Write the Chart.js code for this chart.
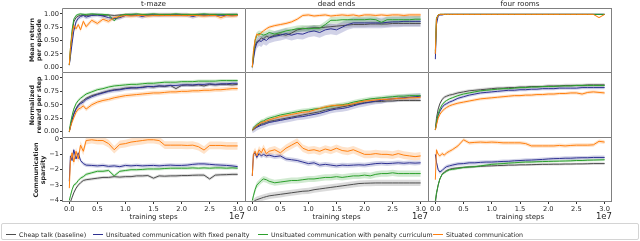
<!DOCTYPE html>
<html>
<head>
<meta charset="utf-8">
<script src="https://cdn.jsdelivr.net/npm/chart.js@4.4.0/dist/chart.umd.min.js"></script>
<style>
body { margin: 0; background: #fff; }
#wrap { position: relative; width: 640px; height: 241px; overflow: hidden; font-family: "DejaVu Sans", sans-serif; color: #262626; }
canvas { position: absolute; }
.t { position: absolute; white-space: nowrap; }
.ttl { font-size: 7.2px; line-height: 8px; top: 0px; transform: translateX(-50%); }
.xl { font-size: 7px; line-height: 8px; top: 213px; transform: translateX(-50%); }
.off { font-size: 8.5px; line-height: 9px; top: 212px; transform: translateX(-100%); }
.yl { font-size: 6.3px; line-height: 7.3px; font-weight: bold; text-align: center; transform: translate(-50%, -50%) rotate(-90deg); }
#legend { position: absolute; left: 1px; top: 223px; width: 636px; height: 15px; border: 1px solid #d4d4d4; border-radius: 2px; }
.lg { position: absolute; top: 230.5px; font-size: 6.3px; line-height: 8px; }
.ln { position: absolute; top: 234px; width: 10px; height: 1px; }
</style>
</head>
<body>
<div id="wrap">
  <div id="legend"></div>
</div>
<script>
// training steps, in units of 1e7
const stepsE7 = [0, 0.02, 0.05, 0.08, 0.12, 0.16, 0.2, 0.25, 0.3,
  0.4, 0.5, 0.6, 0.7, 0.8, 0.9, 1.0, 1.1, 1.2, 1.3, 1.4, 1.5, 1.6, 1.7, 1.8, 1.9, 2.0,
  2.1, 2.2, 2.3, 2.4, 2.5, 2.6, 2.7, 2.8, 2.9, 3.0];
const xTicks = [0, 0.5, 1, 1.5, 2, 2.5, 3];
const rewTicks = [0, 0.25, 0.5, 0.75, 1];
const spTicks = [0, -1, -2, -3, -4];

const envNames = ['t-maze', 'dead ends', 'four rooms'];
const rowLabels = [['Mean return', 'per episode'], ['Normalized', 'reward per step'], ['Communication', 'sparsity']];
const seriesNames = ['Cheap talk (baseline)', 'Unsituated communication with fixed penalty',
  'Unsituated communication with penalty curriculum', 'Situated communication'];

// row 1: mean return per episode
const tmRetBase = [0.04, 0.3, 0.62, 0.85, 0.93, 0.96, 0.97, 0.98, 0.97,
  0.98, 0.98, 0.97, 0.98, 0.97, 0.98, 0.98, 0.98, 0.97, 0.98, 0.98, 0.98, 0.97, 0.98, 0.98, 0.98, 0.98,
  0.97, 0.98, 0.98, 0.98, 0.97, 0.98, 0.98, 0.98, 0.98, 0.98];
const tmRetFixed = [0.04, 0.2, 0.45, 0.68, 0.85, 0.92, 0.95, 0.97, 0.94,
  0.97, 0.98, 0.96, 0.93, 0.91, 0.93, 0.97, 0.98, 0.98, 0.95, 0.98, 0.98, 0.98, 0.98, 0.98, 0.98, 0.98,
  0.98, 0.95, 0.98, 0.98, 0.98, 0.98, 0.98, 0.97, 0.98, 0.98];
const tmRetCurr = [0.04, 0.35, 0.7, 0.9, 0.97, 0.99, 1.0, 0.99, 0.99,
  1.0, 0.99, 0.99, 0.98, 0.87, 0.97, 0.99, 0.99, 1.0, 0.99, 0.99, 1.0, 0.99, 0.99, 0.99, 1.0, 0.99,
  0.99, 0.99, 0.99, 1.0, 0.99, 0.99, 0.99, 0.99, 0.99, 0.99];
const tmRetSit = [0.04, 0.35, 0.62, 0.78, 0.72, 0.8, 0.7, 0.86, 0.76,
  0.88, 0.82, 0.9, 0.86, 0.93, 0.95, 0.97, 0.96, 0.97, 0.97, 0.96, 0.97, 0.97, 0.97, 0.97, 0.97, 0.97,
  0.97, 0.97, 0.97, 0.96, 0.97, 0.97, 0.93, 0.97, 0.96, 0.97];
const tmRetSd = [0.02, 0.04, 0.02, 0.04];

const deRetBase = [0.0, 0.2, 0.4, 0.48, 0.5, 0.55, 0.53, 0.58, 0.56,
  0.6, 0.62, 0.6, 0.64, 0.7, 0.72, 0.73, 0.74, 0.74, 0.75, 0.76, 0.77, 0.78, 0.79, 0.8, 0.8, 0.8,
  0.81, 0.81, 0.81, 0.81, 0.82, 0.82, 0.82, 0.82, 0.82, 0.82];
const deRetFixed = [0.0, 0.15, 0.35, 0.45, 0.5, 0.48, 0.53, 0.5, 0.55,
  0.58, 0.6, 0.63, 0.6, 0.63, 0.62, 0.66, 0.68, 0.65, 0.7, 0.72, 0.7, 0.75, 0.8, 0.83, 0.83, 0.83,
  0.83, 0.83, 0.83, 0.84, 0.85, 0.85, 0.86, 0.86, 0.86, 0.86];
const deRetCurr = [0.0, 0.25, 0.5, 0.6, 0.63, 0.62, 0.6, 0.62, 0.65,
  0.62, 0.65, 0.68, 0.7, 0.72, 0.73, 0.72, 0.73, 0.73, 0.8, 0.88, 0.88, 0.89, 0.89, 0.89, 0.89, 0.89,
  0.9, 0.89, 0.84, 0.89, 0.89, 0.89, 0.89, 0.89, 0.9, 0.9];
const deRetSit = [0.0, 0.3, 0.52, 0.62, 0.6, 0.65, 0.68, 0.72, 0.75,
  0.78, 0.8, 0.82, 0.85, 0.9, 0.97, 0.98, 0.96, 0.97, 0.98, 0.96, 0.97, 0.98, 0.97, 0.98, 0.96, 0.98,
  0.98, 0.97, 0.98, 0.97, 0.98, 0.98, 0.97, 0.98, 0.98, 0.98];
const deRetSd = [0.05, 0.1, 0.06, 0.03];

const frRetBase = [0.25, 0.9, 0.98, 0.99, 0.99, 0.99, 0.99, 0.99, 0.99,
  0.99, 0.99, 0.99, 0.99, 0.99, 0.99, 0.99, 0.99, 0.99, 0.99, 0.99, 0.99, 0.99, 0.99, 0.99, 0.99, 0.99,
  0.99, 0.99, 0.99, 0.99, 0.99, 0.99, 0.99, 0.99, 0.99, 0.99];
const frRetFixed = [0.15, 0.8, 0.96, 0.98, 0.98, 0.99, 0.99, 0.99, 0.99,
  0.99, 0.99, 0.99, 0.99, 0.99, 0.99, 0.99, 0.99, 0.99, 0.99, 0.99, 0.99, 0.99, 0.99, 0.99, 0.99, 0.99,
  0.99, 0.99, 0.99, 0.99, 0.99, 0.99, 0.99, 0.99, 0.99, 0.99];
const frRetCurr = [0.3, 0.92, 0.98, 0.99, 0.99, 0.99, 0.99, 0.99, 0.99,
  0.99, 0.99, 0.99, 0.99, 0.99, 0.99, 0.99, 0.99, 0.99, 0.99, 0.99, 0.99, 0.99, 0.99, 0.99, 0.99, 0.99,
  0.99, 0.99, 0.99, 0.99, 0.99, 0.99, 0.99, 0.99, 0.99, 0.99];
const frRetSit = [0.25, 0.9, 0.98, 0.99, 0.99, 0.99, 0.99, 0.99, 0.99,
  0.99, 0.99, 0.99, 0.99, 0.99, 0.99, 0.99, 0.99, 0.99, 0.99, 0.99, 0.99, 0.99, 0.99, 0.99, 0.99, 0.99,
  0.99, 0.99, 0.99, 0.99, 0.99, 0.99, 0.99, 0.99, 0.93, 0.99];
const frRetSd = [0.01, 0.01, 0.01, 0.01];

// row 2: normalized reward per step
const tmRewBase = [0.0, 0.1, 0.22, 0.34, 0.43, 0.5, 0.54, 0.58, 0.62,
  0.67, 0.7, 0.73, 0.76, 0.78, 0.79, 0.81, 0.82, 0.81, 0.83, 0.84, 0.83, 0.85, 0.84, 0.86, 0.8, 0.86,
  0.87, 0.86, 0.87, 0.85, 0.88, 0.87, 0.88, 0.88, 0.87, 0.88];
const tmRewFixed = [0.0, 0.1, 0.22, 0.32, 0.42, 0.48, 0.52, 0.55, 0.6,
  0.65, 0.69, 0.72, 0.75, 0.77, 0.78, 0.8, 0.81, 0.82, 0.82, 0.84, 0.84, 0.85, 0.85, 0.86, 0.86, 0.87,
  0.87, 0.87, 0.88, 0.88, 0.89, 0.88, 0.89, 0.89, 0.9, 0.9];
const tmRewCurr = [0.0, 0.15, 0.3, 0.42, 0.52, 0.58, 0.62, 0.66, 0.7,
  0.74, 0.78, 0.8, 0.83, 0.85, 0.86, 0.87, 0.88, 0.88, 0.89, 0.9, 0.9, 0.91, 0.92, 0.92, 0.92, 0.93,
  0.93, 0.93, 0.94, 0.94, 0.94, 0.94, 0.95, 0.95, 0.95, 0.95];
const tmRewSit = [0.0, 0.08, 0.18, 0.26, 0.36, 0.42, 0.44, 0.48, 0.42,
  0.5, 0.55, 0.58, 0.6, 0.63, 0.65, 0.67, 0.68, 0.69, 0.7, 0.71, 0.72, 0.72, 0.73, 0.74, 0.74, 0.75,
  0.75, 0.76, 0.76, 0.77, 0.77, 0.78, 0.78, 0.79, 0.8, 0.8];
const tmRewSd = [0.03, 0.04, 0.03, 0.04];

const deRewBase = [0.03, 0.05, 0.07, 0.1, 0.12, 0.14, 0.15, 0.17, 0.19,
  0.21, 0.23, 0.25, 0.27, 0.29, 0.31, 0.33, 0.35, 0.37, 0.4, 0.42, 0.44, 0.46, 0.48, 0.5, 0.52, 0.54,
  0.55, 0.56, 0.56, 0.57, 0.57, 0.58, 0.58, 0.58, 0.58, 0.58];
const deRewFixed = [0.03, 0.04, 0.06, 0.08, 0.1, 0.12, 0.13, 0.15, 0.17,
  0.19, 0.21, 0.23, 0.25, 0.27, 0.28, 0.3, 0.32, 0.34, 0.37, 0.4, 0.42, 0.43, 0.45, 0.48, 0.51, 0.53,
  0.55, 0.57, 0.58, 0.6, 0.61, 0.62, 0.63, 0.64, 0.65, 0.66];
const deRewCurr = [0.03, 0.06, 0.1, 0.13, 0.16, 0.19, 0.2, 0.23, 0.25,
  0.28, 0.31, 0.33, 0.35, 0.37, 0.39, 0.4, 0.42, 0.43, 0.45, 0.47, 0.49, 0.5, 0.52, 0.55, 0.57, 0.59,
  0.61, 0.62, 0.63, 0.64, 0.65, 0.66, 0.66, 0.67, 0.67, 0.67];
const deRewSit = [0.03, 0.05, 0.08, 0.11, 0.14, 0.17, 0.18, 0.2, 0.22,
  0.25, 0.28, 0.3, 0.32, 0.34, 0.36, 0.37, 0.4, 0.43, 0.46, 0.48, 0.49, 0.49, 0.5, 0.52, 0.55, 0.57,
  0.58, 0.59, 0.6, 0.6, 0.61, 0.62, 0.62, 0.63, 0.63, 0.64];
const deRewSd = [0.03, 0.06, 0.04, 0.03];

const frRewBase = [0.03, 0.25, 0.42, 0.52, 0.6, 0.64, 0.66, 0.68, 0.69,
  0.72, 0.74, 0.76, 0.77, 0.78, 0.79, 0.8, 0.81, 0.81, 0.82, 0.82, 0.83, 0.83, 0.84, 0.84, 0.84, 0.85,
  0.85, 0.85, 0.86, 0.86, 0.86, 0.86, 0.87, 0.87, 0.87, 0.87];
const frRewFixed = [0.03, 0.15, 0.3, 0.38, 0.45, 0.5, 0.52, 0.55, 0.57,
  0.62, 0.65, 0.68, 0.7, 0.72, 0.73, 0.74, 0.75, 0.76, 0.77, 0.77, 0.78, 0.78, 0.79, 0.79, 0.8, 0.8,
  0.8, 0.81, 0.81, 0.81, 0.81, 0.82, 0.82, 0.82, 0.82, 0.82];
const frRewCurr = [0.03, 0.18, 0.33, 0.42, 0.5, 0.55, 0.58, 0.61, 0.63,
  0.67, 0.7, 0.72, 0.74, 0.76, 0.77, 0.78, 0.79, 0.8, 0.8, 0.81, 0.82, 0.82, 0.83, 0.83, 0.84, 0.84,
  0.84, 0.85, 0.85, 0.85, 0.86, 0.86, 0.86, 0.86, 0.86, 0.86];
const frRewSit = [0.03, 0.12, 0.25, 0.32, 0.38, 0.42, 0.45, 0.48, 0.5,
  0.53, 0.55, 0.57, 0.59, 0.61, 0.62, 0.63, 0.64, 0.65, 0.66, 0.67, 0.67, 0.68, 0.68, 0.69, 0.69, 0.7,
  0.7, 0.71, 0.71, 0.72, 0.72, 0.7, 0.73, 0.74, 0.73, 0.72];
const frRewSd = [0.03, 0.03, 0.02, 0.03];

// row 3: communication sparsity
const tmSpBase = [-4.3, -4.1, -3.8, -3.5, -3.2, -3.0, -2.85, -2.7, -2.65,
  -2.6, -2.55, -2.5, -2.5, -2.45, -2.48, -2.45, -2.45, -2.4, -2.4, -2.38, -2.55, -2.4, -2.42, -2.4, -2.4, -2.38,
  -2.38, -2.36, -2.35, -2.35, -2.6, -2.35, -2.33, -2.32, -2.3, -2.3];
const tmSpFixed = [-2.75, -1.1, -1.4, -0.7, -1.3, -0.9, -1.4, -1.6, -1.7,
  -1.72, -1.75, -1.72, -1.78, -1.75, -1.8, -1.72, -1.75, -1.72, -1.75, -1.73, -1.72, -1.75, -1.72, -1.7, -1.72, -1.72,
  -1.7, -1.65, -1.62, -1.62, -1.65, -1.68, -1.7, -1.72, -1.75, -1.8];
const tmSpCurr = [-4.0, -3.7, -3.3, -3.0, -2.9, -2.7, -2.55, -2.45, -2.3,
  -2.2, -2.1, -2.1, -2.05, -2.4, -2.1, -2.05, -2.0, -2.0, -1.98, -1.95, -1.95, -1.95, -1.92, -1.9, -1.9, -1.9,
  -1.9, -1.88, -1.9, -1.88, -1.9, -1.88, -1.88, -1.9, -1.88, -1.9];
const tmSpSit = [-3.2, -1.4, -0.9, -1.5, -0.8, -1.3, -0.4, -0.8, -0.1,
  -0.05, -0.1, -0.1, -0.3, -0.7, -0.35, -0.3, -0.2, -0.15, -0.1, -0.05, -0.05, -0.1, -0.4, -0.4, -0.4, -0.4,
  -0.42, -0.4, -0.5, -0.72, -0.42, -0.42, -0.42, -0.45, -0.45, -0.45];
const tmSpSd = [0.1, 0.12, 0.1, 0.25];

const deSpBase = [-4.2, -4.1, -4.0, -3.95, -3.9, -3.85, -3.8, -3.75, -3.7,
  -3.65, -3.6, -3.55, -3.5, -3.45, -3.4, -3.38, -3.3, -3.25, -3.2, -3.15, -3.1, -3.05, -3.0, -2.95, -2.9, -2.88,
  -2.87, -2.86, -2.86, -2.86, -2.86, -2.86, -2.86, -2.86, -2.86, -2.86];
const deSpFixed = [-2.4, -1.0, -0.9, -1.2, -0.95, -1.1, -1.0, -1.1, -1.05,
  -1.15, -1.1, -1.3, -1.35, -1.4, -1.5, -1.6, -1.55, -1.7, -1.65, -1.7, -1.75, -1.7, -1.72, -1.7, -1.68, -1.7,
  -1.65, -1.6, -1.58, -1.6, -1.58, -1.55, -1.58, -1.55, -1.57, -1.55];
const deSpCurr = [-4.0, -3.7, -3.3, -3.0, -2.85, -2.7, -2.6, -2.65, -2.75,
  -2.85, -2.8, -2.75, -2.7, -2.7, -2.65, -2.6, -2.6, -2.55, -2.5, -2.5, -2.45, -2.5, -2.45, -2.4, -2.4, -2.35,
  -2.4, -2.3, -2.25, -2.25, -2.2, -2.25, -2.25, -2.25, -2.25, -2.25];
const deSpSit = [-2.4, -1.0, -0.8, -1.1, -0.7, -0.9, -0.6, -0.95, -0.8,
  -0.7, -0.9, -0.6, -0.4, -0.2, -0.6, -0.75, -0.7, -0.8, -0.65, -0.75, -0.6, -0.75, -0.8, -0.7, -0.85, -1.0,
  -1.0, -0.95, -1.0, -1.0, -1.05, -0.95, -1.05, -1.1, -1.15, -1.1];
const deSpSd = [0.2, 0.15, 0.2, 0.25];

const frSpBase = [-4.2, -3.6, -3.0, -2.6, -2.3, -2.15, -2.05, -1.98, -1.92,
  -1.88, -1.85, -1.82, -1.8, -1.78, -1.76, -1.75, -1.73, -1.72, -1.7, -1.7, -1.68, -1.68, -1.67, -1.66, -1.65, -1.65,
  -1.64, -1.64, -1.63, -1.63, -1.62, -1.62, -1.61, -1.6, -1.6, -1.6];
const frSpFixed = [-1.0, -1.5, -2.0, -2.15, -2.05, -1.9, -1.8, -1.75, -1.7,
  -1.62, -1.6, -1.55, -1.55, -1.52, -1.5, -1.5, -1.48, -1.46, -1.45, -1.42, -1.4, -1.38, -1.37, -1.35, -1.33, -1.3,
  -1.28, -1.27, -1.25, -1.25, -1.23, -1.22, -1.22, -1.2, -1.2, -1.2];
const frSpCurr = [-4.0, -3.5, -3.0, -2.6, -2.3, -2.2, -2.1, -2.0, -1.98,
  -1.92, -1.85, -1.82, -1.8, -1.75, -1.7, -1.65, -1.62, -1.6, -1.57, -1.55, -1.52, -1.5, -1.5, -1.48, -1.47, -1.46,
  -1.45, -1.44, -1.43, -1.42, -1.4, -1.4, -1.38, -1.37, -1.36, -1.35];
const frSpSit = [-2.65, -0.7, -1.0, -1.1, -0.95, -1.05, -0.9, -0.8, -0.7,
  -0.45, -0.05, -0.25, -0.22, -0.2, -0.22, -0.2, -0.22, -0.25, -0.25, -0.25, -0.25, -0.3, -0.45, -0.45, -0.45, -0.45,
  -0.45, -0.42, -0.45, -0.42, -0.4, -0.4, -0.4, -0.38, -0.15, -0.2];
const frSpSd = [0.08, 0.12, 0.08, 0.12];

const panels = [
  [[[tmRetBase, tmRetFixed, tmRetCurr, tmRetSit], tmRetSd],
   [[deRetBase, deRetFixed, deRetCurr, deRetSit], deRetSd],
   [[frRetBase, frRetFixed, frRetCurr, frRetSit], frRetSd]],
  [[[tmRewBase, tmRewFixed, tmRewCurr, tmRewSit], tmRewSd],
   [[deRewBase, deRewFixed, deRewCurr, deRewSit], deRewSd],
   [[frRewBase, frRewFixed, frRewCurr, frRewSit], frRewSd]],
  [[[tmSpBase, tmSpFixed, tmSpCurr, tmSpSit], tmSpSd],
   [[deSpBase, deSpFixed, deSpCurr, deSpSit], deSpSd],
   [[frSpBase, frSpFixed, frSpCurr, frSpSit], frSpSd]]
];

// layout
const colEdges = [62, 245, 428, 612];
const rowEdges = [8, 72, 137, 202];
const rowLimits = [[-0.09, 1.11], [-0.1, 1.11], [-4.1, 0.13]];
const colors = ['#4d4d4d', '#2e3192', '#2ca02c', '#ff7f0e'];
const bandColors = ['rgba(77,77,77,0.2)', 'rgba(46,49,146,0.22)', 'rgba(44,160,44,0.22)', 'rgba(255,127,14,0.22)'];
const FONT = 'DejaVu Sans';

const spines = {
  id: 'spines',
  afterDraw(chart, args, o) {
    const { ctx, chartArea: a } = chart;
    ctx.save();
    ctx.strokeStyle = '#808080';
    ctx.lineWidth = 1;
    ctx.beginPath();
    ctx.moveTo(a.left + 0.5, a.bottom);
    ctx.lineTo(a.left + 0.5, a.top + 0.5);
    ctx.lineTo(a.right, a.top + 0.5);
    if (o.right) { ctx.moveTo(a.right - 0.5, a.top); ctx.lineTo(a.right - 0.5, a.bottom); }
    if (o.bottom) { ctx.moveTo(a.left, a.bottom - 0.5); ctx.lineTo(a.right, a.bottom - 0.5); }
    ctx.stroke();
    ctx.restore();
  }
};

function buildDatasets(series, sds) {
  const ds = [];
  series.forEach((vals, i) => {
    ds.push({ data: vals.map((v, k) => ({ x: stepsE7[k], y: v + sds[i] })), fill: '+1',
      backgroundColor: bandColors[i], borderColor: 'transparent', borderWidth: 0, pointRadius: 0, order: 20 - 2 * i });
    ds.push({ data: vals.map((v, k) => ({ x: stepsE7[k], y: v - sds[i] })), fill: false,
      borderColor: 'transparent', borderWidth: 0, pointRadius: 0, order: 19 - 2 * i });
  });
  series.forEach((vals, i) => {
    ds.push({ data: vals.map((v, k) => ({ x: stepsE7[k], y: v })), fill: false,
      borderColor: colors[i], borderWidth: 1, pointRadius: 0, order: 4 - i });
  });
  return ds;
}

const wrap = document.getElementById('wrap');

function makePanel(r, c) {
  const L = colEdges[c], R = colEdges[c + 1], T = rowEdges[r], B = rowEdges[r + 1];
  const showY = c === 0, showX = r === 2;
  const padL = showY ? 40 : 0, padB = showX ? 14 : 0, padT = 6;
  const cv = document.createElement('canvas');
  const w = R - L + padL, h = B - T + padT + padB;
  cv.width = w; cv.height = h;
  cv.style.left = (L - padL) + 'px';
  cv.style.top = (T - padT) + 'px';
  cv.style.width = w + 'px';
  cv.style.height = h + 'px';
  wrap.appendChild(cv);
  const yTicks = r === 2 ? spTicks : rewTicks;
  const [series, sds] = panels[r][c];
  new Chart(cv, {
    type: 'line',
    data: { datasets: buildDatasets(series, sds) },
    plugins: [spines],
    options: {
      responsive: false,
      animation: false,
      devicePixelRatio: 1,
      layout: { padding: { top: padT, left: 0, right: 0, bottom: 0 } },
      plugins: { legend: { display: false }, tooltip: { enabled: false }, spines: { right: c === 2, bottom: r === 2 } },
      scales: {
        x: {
          type: 'linear', min: -0.13, max: 3.13, display: showX,
          afterBuildTicks: s => { s.ticks = xTicks.map(v => ({ value: v })); },
          afterFit: s => { s.height = padB; s.paddingLeft = 0; s.paddingRight = 0; },
          ticks: { font: { family: FONT, size: 6.7 }, color: '#262626', padding: 1, maxRotation: 0, autoSkip: false,
            callback: v => v.toFixed(1) },
          grid: { display: true, drawOnChartArea: false, drawTicks: true, tickLength: 2, color: '#333' },
          border: { display: false }
        },
        y: {
          type: 'linear', min: rowLimits[r][0], max: rowLimits[r][1], display: showY,
          afterBuildTicks: s => { s.ticks = yTicks.map(v => ({ value: v })); },
          afterFit: s => { s.width = padL; s.paddingTop = 0; s.paddingBottom = 0; },
          ticks: { font: { family: FONT, size: 6.7 }, color: '#262626', padding: 1, autoSkip: false,
            callback: v => r === 2 ? (v === 0 ? '0' : '\u2212' + Math.abs(v)) : v.toFixed(2) },
          grid: { display: true, drawOnChartArea: false, drawTicks: true, tickLength: 2, color: '#333' },
          border: { display: false }
        }
      }
    }
  });
}

for (let r = 0; r < 3; r++) for (let c = 0; c < 3; c++) makePanel(r, c);

function addText(cls, html, left, top) {
  const d = document.createElement('div');
  d.className = 't ' + cls;
  d.innerHTML = html;
  d.style.left = left + 'px';
  if (top !== undefined) d.style.top = top + 'px';
  wrap.appendChild(d);
  return d;
}

envNames.forEach((n, c) => {
  const mid = (colEdges[c] + colEdges[c + 1]) / 2;
  addText('ttl', n, mid);
  addText('xl', 'training steps', mid);
  addText('off', '1e7', colEdges[c + 1]);
});

const ylabelX = [34.5, 34.5, 38.5];
rowLabels.forEach((lines, r) => {
  const mid = (rowEdges[r] + rowEdges[r + 1]) / 2;
  addText('yl', lines.join('<br>'), ylabelX[r], mid);
});

const legendLineX = [6, 93, 258, 433];
seriesNames.forEach((n, i) => {
  const ln = document.createElement('div');
  ln.className = 'ln';
  ln.style.left = legendLineX[i] + 'px';
  ln.style.background = colors[i];
  wrap.appendChild(ln);
  addText('lg', n, legendLineX[i] + 13);
});
</script>
</body>
</html>
